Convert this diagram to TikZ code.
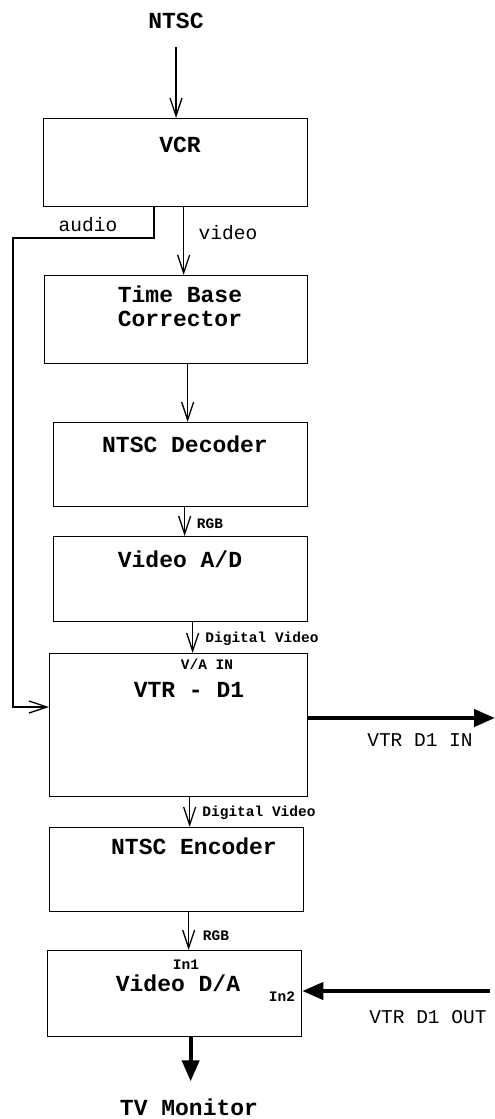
\documentclass[tikz,border=0pt]{standalone}
\usepackage{fontspec}
\setmainfont{Liberation Mono}
\usetikzlibrary{arrows.meta}

\begin{document}
\begin{tikzpicture}[
    x=1pt, y=-1pt, >={Straight Barb[length=18pt, width=12pt]},
    blk/.style={draw, line width=1.3pt, anchor=north west, inner sep=0pt},
    ttl/.style={font=\fontsize{23}{24}\selectfont\bfseries, text height=15pt, text depth=0pt, inner sep=0pt},
    tag/.style={font=\fontsize{14.5}{15}\selectfont\bfseries, text height=9.5pt, text depth=0pt, inner sep=0pt},
    lbl/.style={font=\fontsize{19.5}{20}\selectfont, text height=12.5pt, text depth=0pt, inner sep=0pt},
    sig/.style={->, line width=1.3pt},
    fat/.style={-{Triangle[length=21pt, width=17pt]}, line width=4pt}
]
    \useasboundingbox (0,0) rectangle (495,1119);

    % blocks
    \node[blk, minimum width=264pt, minimum height=88pt]  (vcr) at (43,118) {};
    \node[blk, minimum width=263pt, minimum height=88pt]  (tbc) at (44,275) {};
    \node[blk, minimum width=254pt, minimum height=84pt]  (dec) at (53,422) {};
    \node[blk, minimum width=254pt, minimum height=85pt]  (ad)  at (53,536) {};
    \node[blk, minimum width=258pt, minimum height=143pt] (vtr) at (49,653) {};
    \node[blk, minimum width=254pt, minimum height=84pt]  (enc) at (49,827) {};
    \node[blk, minimum width=254pt, minimum height=86pt]  (da)  at (47,950) {};

    % titles
    \node[ttl] (ntsc) at (176,21) {NTSC};
    \node[ttl] (vcrtxt) at (180,145) {VCR};
    \node[font=\fontsize{23}{24}\selectfont\bfseries, align=center, inner sep=0pt] (tbctxt) at (180,306) {Time Base\\Corrector};
    \node[ttl] (dectxt) at (185,445) {NTSC Decoder};
    \node[ttl] (adtxt)  at (180,560) {Video A/D};
    \node[tag] (vain)   at (207,665) {V/A IN};
    \node[ttl] (vtrtxt) at (189,690) {VTR - D1};
    \node[ttl] (enctxt) at (194,847) {NTSC Encoder};
    \node[tag] (inone)  at (186,965) {In1};
    \node[ttl] (datxt)  at (178,984) {Video D/A};
    \node[tag] (intwo)  at (282,997) {In2};
    \node[ttl] (tv)     at (189,1108) {TV Monitor};

    % signal labels
    \node[lbl] (audio) at (88,225) {audio};
    \node[lbl] (video) at (228,233) {video};
    \node[tag] (rgba)  at (210,524) {RGB};
    \node[tag] (dva)   at (262,638) {Digital Video};
    \node[tag] (dvb)   at (259,812) {Digital Video};
    \node[tag] (rgbb)  at (216,936) {RGB};
    \node[lbl] (vtrin)  at (420,740) {VTR D1 IN};
    \node[lbl] (vtrout) at (428,1017) {VTR D1 OUT};

    \coordinate (abend) at (154,238);
    \coordinate (aleft) at (13,238);
    \coordinate (ain)   at (49,707);
    \coordinate (vdin)  at (495,718);
    \coordinate (vdout) at (490,991);

    % connectors
    \draw[sig, shorten <=18pt] (ntsc) -- (ntsc |- vcr.north);
    \draw[sig] (vcr.south -| abend) -- (abend) -- (aleft) |- (ain);
    \draw[sig] ([xshift=8pt]vcr.south) -- ([xshift=8pt]vcr.south |- tbc.north);
    \draw[sig] ([xshift=11.5pt]tbc.south) -- ([xshift=11.5pt]tbc.south |- dec.north);
    \draw[sig] ([xshift=4pt]dec.south) -- ([xshift=4pt]dec.south |- ad.north);
    \draw[sig] ([xshift=12pt]ad.south) -- ([xshift=12pt]ad.south |- vtr.north);
    \draw[sig] ([xshift=11pt]vtr.south) -- ([xshift=11pt]vtr.south |- enc.north);
    \draw[sig] ([xshift=12pt]enc.south) -- ([xshift=12pt]enc.south |- da.north);
    \draw[fat] (vdin -| vtr.east) -- (vdin);
    \draw[fat] (vdout) -- (vdout -| da.east);
    \draw[fat, shorten >=19pt] ([xshift=16pt]da.south) -- ([xshift=16pt]da.south |- tv.north);
\end{tikzpicture}
\end{document}
